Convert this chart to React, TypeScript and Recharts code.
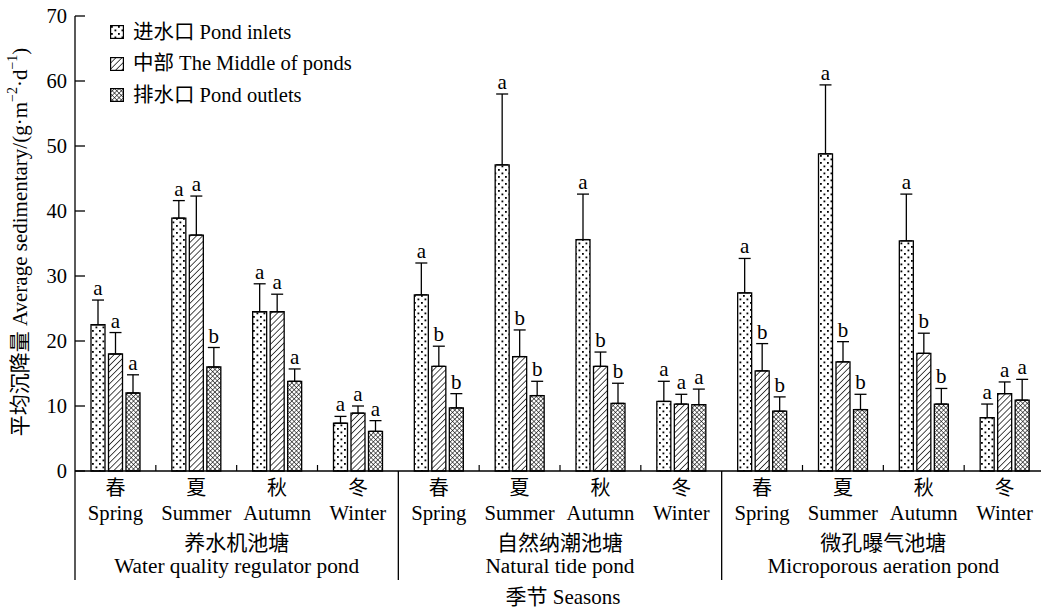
import React from "react";
import { Bar, BarChart, ErrorBar, LabelList, Legend, XAxis, YAxis } from "recharts";

// seasons repeat under each pond type
const SEASONS_ZH = ["春", "夏", "秋", "冬"];
const SEASONS_EN = ["Spring", "Summer", "Autumn", "Winter"];
const PONDS_ZH = ["养水机池塘", "自然纳潮池塘", "微孔曝气池塘"];
const PONDS_EN = [
  "Water quality regulator pond",
  "Natural tide pond",
  "Microporous aeration pond",
];

// 进水口 Pond inlets
const inlet = [22.5, 38.9, 24.5, 7.35, 27.1, 47.1, 35.6, 10.7, 27.4, 48.8, 35.4, 8.2];
const inletErr = [3.8, 2.7, 4.3, 1.05, 4.9, 10.9, 7.0, 3.1, 5.3, 10.6, 7.2, 2.1];
const inletSig = ["a", "a", "a", "a", "a", "a", "a", "a", "a", "a", "a", "a"];

// 中部 The Middle of ponds
const middle = [18.0, 36.3, 24.5, 8.9, 16.1, 17.6, 16.1, 10.3, 15.4, 16.8, 18.1, 11.9];
const middleErr = [3.3, 6.0, 2.7, 1.1, 3.1, 4.1, 2.2, 1.5, 4.2, 3.1, 3.1, 1.8];
const middleSig = ["a", "a", "a", "a", "b", "b", "b", "a", "b", "b", "b", "a"];

// 排水口 Pond outlets
const outlet = [12.0, 16.0, 13.8, 6.1, 9.7, 11.6, 10.4, 10.2, 9.2, 9.45, 10.3, 10.9];
const outletErr = [2.8, 3.0, 1.9, 1.65, 2.2, 2.2, 3.1, 2.4, 2.2, 2.35, 2.4, 3.2];
const outletSig = ["a", "b", "a", "a", "b", "b", "b", "a", "b", "b", "b", "a"];

const yTicks = [0, 10, 20, 30, 40, 50, 60, 70];

const FONT = "'Liberation Serif', 'Times New Roman', 'Noto Sans CJK SC', serif";
const W = 1045;
const H = 611;
const LEFT = 75;
const BAND = (W - LEFT) / 12;

const data = inlet.map((v, i) => ({
  key: `c${i}`,
  inlet: v,
  inletErr: [0, inletErr[i]],
  middle: middle[i],
  middleErr: [0, middleErr[i]],
  outlet: outlet[i],
  outletErr: [0, outletErr[i]],
}));

const legendItems = [
  { id: "pat-dots", label: "进水口 Pond inlets" },
  { id: "pat-hatch", label: "中部 The Middle of ponds" },
  { id: "pat-cross", label: "排水口 Pond outlets" },
];

function LegendBox() {
  return (
    <div style={{ fontFamily: FONT, fontSize: 20.5, lineHeight: "31.5px", color: "#000" }}>
      {legendItems.map((it) => (
        <div key={it.id} style={{ display: "flex", alignItems: "center" }}>
          <svg width={14} height={14} style={{ display: "block" }}>
            <rect x={0.6} y={0.6} width={12.8} height={12.8} fill={`url(#${it.id})`} stroke="#000" strokeWidth={1.2} />
          </svg>
          <span style={{ marginLeft: 9 }}>{it.label}</span>
        </div>
      ))}
    </div>
  );
}

function SeasonTick(props: any) {
  const { x, y, payload } = props;
  const i: number = props.index ?? payload.index;
  const left = x - BAND / 2;
  return (
    <g fontFamily={FONT} fill="#000">
      {i % 4 === 0 ? (
        <line x1={left} x2={left} y1={y} y2={y + 109} stroke="#000" strokeWidth={1.3} />
      ) : (
        <line x1={left} x2={left} y1={y} y2={y - 6} stroke="#000" strokeWidth={1.2} />
      )}
      <text x={x} y={y + 17} textAnchor="middle" dominantBaseline="central" fontSize={20}>
        {SEASONS_ZH[i % 4]}
      </text>
      <text x={x} y={y + 49} textAnchor="middle" fontSize={20.7}>
        {SEASONS_EN[i % 4]}
      </text>
      {i % 4 === 1 && (
        <>
          <text x={x + BAND / 2} y={y + 72} textAnchor="middle" dominantBaseline="central" fontSize={21}>
            {PONDS_ZH[Math.floor(i / 4)]}
          </text>
          <text x={x + BAND / 2} y={y + 102} textAnchor="middle" fontSize={21.3}>
            {PONDS_EN[Math.floor(i / 4)]}
          </text>
        </>
      )}
      {i === 5 && (
        <text x={x + BAND / 2 + 3} y={y + 133} textAnchor="middle" fontSize={21}>
          季节 Seasons
        </text>
      )}
    </g>
  );
}

function ValueTick(props: any) {
  const { y, payload } = props;
  return (
    <g fontFamily={FONT}>
      <line x1={LEFT} x2={LEFT + 10} y1={y} y2={y} stroke="#000" strokeWidth={1.3} />
      <text x={67} y={y} dy="0.35em" textAnchor="end" fontSize={20.5} fill="#000">
        {payload.value}
      </text>
    </g>
  );
}

function AxisTitle() {
  // centred on the y axis span
  const cx = 20;
  const cy = 242;
  return (
    <text
      x={cx}
      y={cy}
      transform={`rotate(-90 ${cx} ${cy})`}
      textAnchor="middle"
      dominantBaseline="central"
      fontFamily={FONT}
      fontSize={21}
      fill="#000"
    >
      平均沉降量 Average sedimentary/(g·m
      <tspan baselineShift="super" fontSize={14}>−2</tspan>
      ·d
      <tspan baselineShift="super" fontSize={14}>−1</tspan>)
    </text>
  );
}

function sigLabel(vals: number[], errs: number[], sig: string[]) {
  return (props: any) => {
    const { x, y, width, height, index } = props;
    const v = vals[index];
    const top = y + height - ((v + errs[index]) / v) * height;
    return (
      <text x={x + width / 2} y={top - 5} textAnchor="middle" fontFamily={FONT} fontSize={21} fill="#000">
        {sig[index]}
      </text>
    );
  };
}

export default function App() {
  return (
    <div style={{ position: "absolute", left: 0, top: 0, width: 1041, height: 611, overflow: "hidden", background: "#fff" }}>
      <BarChart
        width={W}
        height={H}
        data={data}
        margin={{ top: 16, right: 0, left: 0, bottom: 0 }}
        barSize={14}
        barGap={3.5}
      >
        <defs>
          <pattern id="pat-dots" patternUnits="userSpaceOnUse" width={7} height={7}>
            <rect width={7} height={7} fill="#fff" />
            <rect x={1} y={1} width={1.8} height={1.8} fill="#000" />
            <rect x={4.5} y={4.5} width={1.8} height={1.8} fill="#000" />
          </pattern>
          <pattern id="pat-hatch" patternUnits="userSpaceOnUse" width={4.3} height={4.3} patternTransform="rotate(45)">
            <rect width={4.3} height={4.3} fill="#fff" />
            <line x1={0} y1={0} x2={0} y2={4.3} stroke="#000" strokeWidth={1.4} />
          </pattern>
          <pattern id="pat-cross" patternUnits="userSpaceOnUse" width={3.2} height={3.2} patternTransform="rotate(45)">
            <rect width={3.2} height={3.2} fill="#fff" />
            <line x1={0} y1={0} x2={0} y2={3.2} stroke="#000" strokeWidth={1.1} />
            <line x1={0} y1={0} x2={3.2} y2={0} stroke="#000" strokeWidth={1.1} />
          </pattern>
        </defs>
        <XAxis
          dataKey="key"
          interval={0}
          height={140}
          tickLine={false}
          tickSize={0}
          tickMargin={0}
          axisLine={{ stroke: "#000", strokeWidth: 1.3 }}
          tick={<SeasonTick />}
        />
        <YAxis
          width={LEFT}
          domain={[0, 70]}
          ticks={yTicks}
          interval={0}
          tickLine={false}
          tickSize={0}
          axisLine={{ stroke: "#000", strokeWidth: 1.3 }}
          tick={<ValueTick />}
          label={<AxisTitle />}
        />
        <Legend
          layout="vertical"
          align="center"
          verticalAlign="middle"
          content={<LegendBox />}
          wrapperStyle={{ left: 110, top: 16.5, width: "auto" }}
        />
        <Bar dataKey="inlet" fill="url(#pat-dots)" stroke="#000" strokeWidth={1.3} isAnimationActive={false}>
          <ErrorBar dataKey="inletErr" direction="y" width={6} stroke="#000" strokeWidth={1.3} />
          <LabelList dataKey="inlet" content={sigLabel(inlet, inletErr, inletSig)} />
        </Bar>
        <Bar dataKey="middle" fill="url(#pat-hatch)" stroke="#000" strokeWidth={1.3} isAnimationActive={false}>
          <ErrorBar dataKey="middleErr" direction="y" width={6} stroke="#000" strokeWidth={1.3} />
          <LabelList dataKey="middle" content={sigLabel(middle, middleErr, middleSig)} />
        </Bar>
        <Bar dataKey="outlet" fill="url(#pat-cross)" stroke="#000" strokeWidth={1.3} isAnimationActive={false}>
          <ErrorBar dataKey="outletErr" direction="y" width={6} stroke="#000" strokeWidth={1.3} />
          <LabelList dataKey="outlet" content={sigLabel(outlet, outletErr, outletSig)} />
        </Bar>
      </BarChart>
    </div>
  );
}
